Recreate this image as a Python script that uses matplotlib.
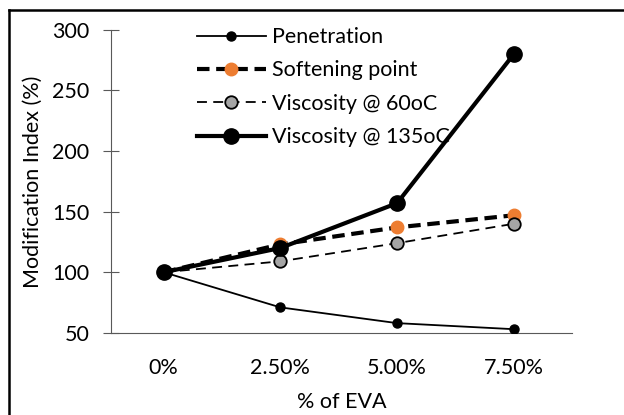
import matplotlib.pyplot as plt
from matplotlib.lines import Line2D

plt.rcParams['font.family'] = ['Lato', 'DejaVu Sans']

categories = ['0%', '2.50%', '5.00%', '7.50%']
penetration = [100, 71, 58, 53]
softening = [100, 123, 137, 147]
visc_60 = [100, 109, 124, 140]
visc_135 = [100, 120, 157, 280]

FS = 15.5

fig = plt.figure(figsize=(6.24, 4.15), dpi=100)
ax = fig.add_axes([0.178, 0.198, 0.739, 0.730])

x = list(range(len(categories)))
ax.plot(x, penetration, color='black', lw=1.3, marker='o', ms=6.5,
        label='Penetration', zorder=3)
ax.plot(x, softening, color='black', lw=3, ls=(0, (3, 1.6)), marker='o', ms=9,
        mfc='#ED7D31', mec='#ED7D31', label='Softening point', zorder=4)
ax.plot(x, visc_60, color='black', lw=1.3, ls=(0, (5.5, 3.5)), marker='o', ms=9,
        mfc='#A5A5A5', mec='black', mew=1.3, label='Viscosity @ 60oC', zorder=5)
ax.plot(x, visc_135, color='black', lw=3, marker='o', ms=11,
        label='Viscosity @ 135oC', zorder=6)

ax.set_xlim(-0.45, 3.5)
ax.set_ylim(50, 300)
ax.set_yticks([50, 100, 150, 200, 250, 300])
ax.set_xticks(x)
ax.set_xticklabels(categories)

for s in ['top', 'right']:
    ax.spines[s].set_visible(False)
ax.spines['left'].set_color('#595959')
ax.spines['bottom'].set_color('#595959')
ax.tick_params(axis='y', direction='inout', length=11, color='#595959',
               labelsize=FS, pad=10)
ax.tick_params(axis='x', length=0, labelsize=FS, pad=18)

ax.set_xlabel('% of EVA', fontsize=FS, labelpad=10)
ax.set_ylabel('Modification Index (%)', fontsize=FS, labelpad=7)

ax.legend(loc='upper left', bbox_to_anchor=(0.144, 1.073), frameon=False,
          fontsize=FS, handlelength=3.2, handletextpad=0.3, labelspacing=0.62)

# outer chart border (cropped at right and bottom)
fig.add_artist(Line2D([9 / 624, 9 / 624], [0, 1 - 10 / 415],
                      transform=fig.transFigure, color='black', lw=1.8))
fig.add_artist(Line2D([9 / 624, 1], [1 - 10 / 415, 1 - 10 / 415],
                      transform=fig.transFigure, color='black', lw=1.8))

fig.savefig('out.png', dpi=100)
